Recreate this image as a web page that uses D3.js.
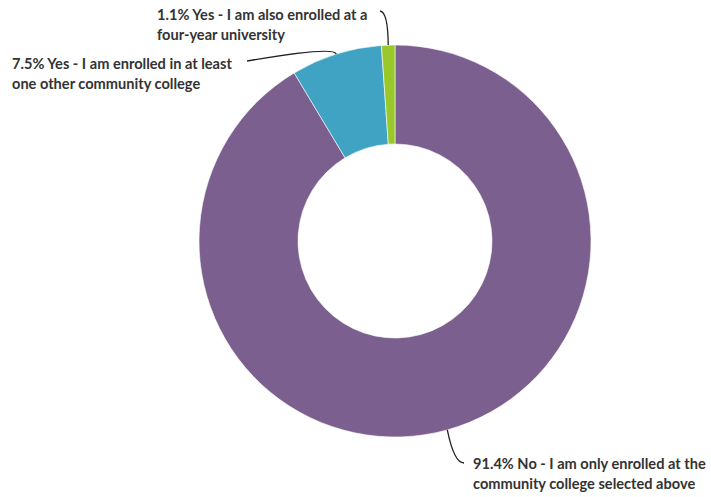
<!DOCTYPE html>
<html><head><meta charset="utf-8">
<script src="https://cdn.jsdelivr.net/npm/d3@7"></script>
<style>body{margin:0;background:#fff;}text{font-family:Lato,"Noto Sans",sans-serif;font-weight:bold;}</style>
</head><body><svg id="c" width="711" height="497"></svg>
<script>
const categories = ["No - I am only enrolled at the community college selected above","Yes - I am enrolled in at least one other community college","Yes - I am also enrolled at a four-year university"];
const values = [91.4, 7.5, 1.1];
const colors = ["#7b5f8e","#40a3c4","#98c829"];
const labelLines = [
  ["91.4% No - I am only enrolled at the","community college selected above"],
  ["7.5% Yes - I am enrolled in at least","one other community college"],
  ["1.1% Yes - I am also enrolled at a","four-year university"]
];
const svg = d3.select("#c");
const cx=395, cy=241, R=196, r=97;
const g = svg.append("g").attr("transform",`translate(${cx},${cy})`);
const pie = d3.pie().sort(null).value(d=>d);
const arcs = pie(values);
const arc = d3.arc().innerRadius(r).outerRadius(R);
g.selectAll("path.s").data(arcs).enter().append("path").attr("class","s")
 .attr("d",arc).attr("fill",(d,i)=>colors[i]).attr("stroke","#fff").attr("stroke-width",0.6);
const lineSpec = [
  {end:[464,463], ctrl:[454,463]},
  {end:[247,61], ctrl:[334,46]},
  {end:[380,11], ctrl:[388,12]}
];
arcs.forEach((a,i)=>{
  const m=(a.startAngle+a.endAngle)/2;
  const sx=cx+R*Math.sin(m), sy=cy-R*Math.cos(m);
  const s=lineSpec[i];
  const p=d3.path(); p.moveTo(sx,sy);
  p.quadraticCurveTo(s.ctrl[0],s.ctrl[1],s.end[0],s.end[1]);
  svg.append("path").attr("d",p.toString()).attr("fill","none").attr("stroke","#222").attr("stroke-width",1.3);
});
const labelPos=[[473,469],[12,69],[157,20]];
labelLines.forEach((ls,i)=>{
  const t=svg.append("text").attr("x",labelPos[i][0]).attr("y",labelPos[i][1]).attr("font-size",14.6).attr("fill","#333");
  ls.forEach((l,j)=>t.append("tspan").attr("x",labelPos[i][0]).attr("dy",j?20:0).text(l));
});
</script></body></html>
